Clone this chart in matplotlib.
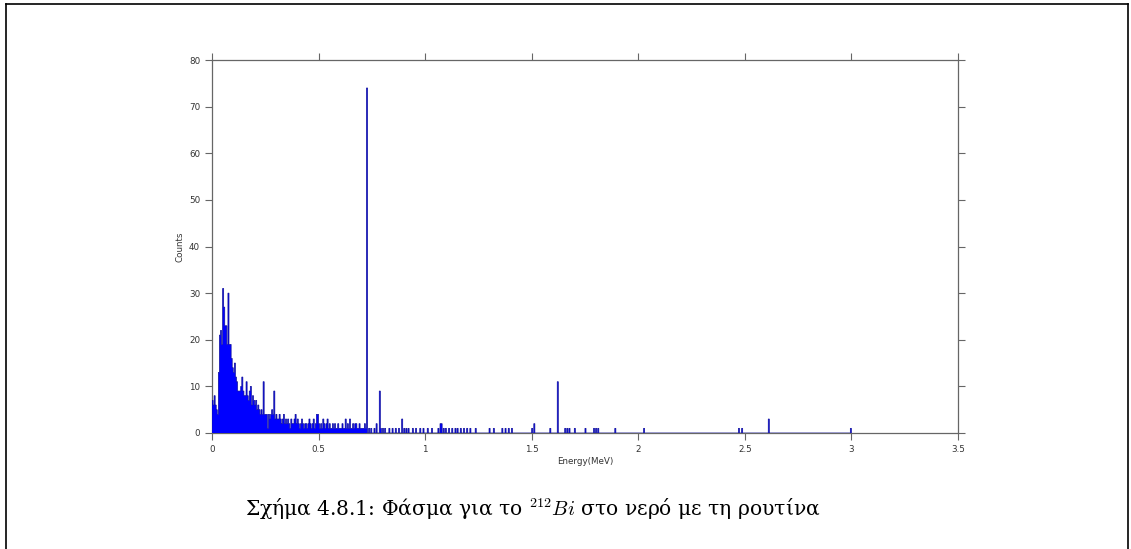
import numpy as np
import matplotlib
matplotlib.use("Agg")
import matplotlib.pyplot as plt
from matplotlib.lines import Line2D

plt.rcParams['mathtext.fontset'] = 'cm'

# bin width of the spectrum (MeV)
bin_width = 0.005

# counts per bin from 0 to 0.725 MeV (dense part of the spectrum)
low_counts = [
    7, 6, 8, 6, 5, 4, 13, 21, 22, 19,
    31, 27, 23, 23, 19, 30, 19, 19, 16, 14,
    13, 15, 12, 11, 9, 9, 9, 10, 12, 9,
    8, 8, 11, 8, 7, 9, 10, 6, 8, 7,
    6, 7, 5, 6, 5, 4, 5, 4, 11, 4,
    4, 4, 1, 4, 3, 4, 5, 4, 9, 3,
    4, 3, 3, 4, 3, 2, 3, 4, 2, 3,
    2, 3, 2, 1, 3, 2, 2, 3, 4, 2,
    3, 2, 1, 2, 3, 2, 1, 2, 2, 1,
    2, 3, 2, 1, 2, 3, 1, 2, 4, 4,
    2, 1, 2, 1, 3, 2, 1, 2, 3, 1,
    2, 1, 1, 2, 1, 2, 1, 1, 2, 1,
    1, 1, 2, 1, 1, 3, 1, 2, 1, 3,
    1, 1, 2, 1, 2, 2, 1, 1, 2, 1,
    1, 1, 1, 2, 1,
]

# sparse lines above 0.725 MeV
line_energies = [0.727, 0.736, 0.746, 0.761, 0.771, 0.786, 0.791, 0.801, 0.811,
                 0.831, 0.846, 0.861, 0.876, 0.893, 0.901, 0.911, 0.921, 0.941,
                 0.956, 0.976, 0.991, 1.011, 1.031, 1.061, 1.071, 1.078, 1.086,
                 1.096, 1.111, 1.126, 1.141, 1.151, 1.166, 1.181, 1.196, 1.211,
                 1.236, 1.301, 1.321, 1.361, 1.376, 1.391, 1.406, 1.502, 1.511,
                 1.588, 1.621, 1.656, 1.667, 1.679, 1.703, 1.753, 1.791, 1.803,
                 1.813, 1.892, 2.028, 2.472, 2.488, 2.614, 2.998]
line_counts = [74, 1, 1, 1, 2, 9, 1, 1, 1,
               1, 1, 1, 1, 3, 1, 1, 1, 1,
               1, 1, 1, 1, 1, 1, 2, 2, 1,
               1, 1, 1, 1, 1, 1, 1, 1, 1,
               1, 1, 1, 1, 1, 1, 1, 1, 2,
               1, 11, 1, 1, 1, 1, 1, 1, 1,
               1, 1, 1, 1, 1, 3, 1]

x_ticks = [0, 0.5, 1, 1.5, 2, 2.5, 3, 3.5]
y_ticks = [0, 10, 20, 30, 40, 50, 60, 70, 80]

edges = np.arange(0, 3.0 + bin_width / 2, bin_width)
counts = np.zeros(len(edges) - 1)
counts[:len(low_counts)] = low_counts
for e, c in zip(line_energies, line_counts):
    counts[int(np.floor(e / bin_width + 1e-9))] += c

fig = plt.figure(figsize=(11.31, 5.49), dpi=100)
ax = fig.add_axes([0.1874, 0.2113, 0.6596, 0.6794])

ax.stairs(counts, edges, fill=True, color='#0000ff', zorder=3)
ax.stairs(counts, edges, color='#10109a', lw=0.5, zorder=3)

ax.set_xlim(0, 3.5)
ax.set_ylim(0, 80)
ax.set_xticks(x_ticks)
ax.set_xticklabels(['%g' % t for t in x_ticks])
ax.set_yticks(y_ticks)

for s in ax.spines.values():
    s.set_color('#666666')
    s.set_linewidth(0.9)
ax.tick_params(direction='out', length=5, width=0.8, color='#666666',
               labelsize=6.3, labelcolor='#333333', top=True, right=True)
ax.set_xlabel('Energy(MeV)', fontsize=6.3, color='#333333', labelpad=2)
ax.set_ylabel('Counts', fontsize=6.3, color='#333333', labelpad=3)

# page frame
for xs, ys in [([6 / 1131, 1128 / 1131], [1 - 4 / 549, 1 - 4 / 549]),
               ([6 / 1131, 6 / 1131], [1 - 4 / 549, 0]),
               ([1128 / 1131, 1128 / 1131], [1 - 4 / 549, 0])]:
    fig.add_artist(Line2D(xs, ys, color='black', lw=1.2, transform=fig.transFigure))

fig.text(0.471, 0.06, r'Σχήμα 4.8.1: Φάσμα για το $^{212}Bi$ στο νερό με τη ρουτίνα',
         ha='center', va='baseline', fontsize=14.6, family='DejaVu Serif')

fig.savefig('out.png', dpi=100)
